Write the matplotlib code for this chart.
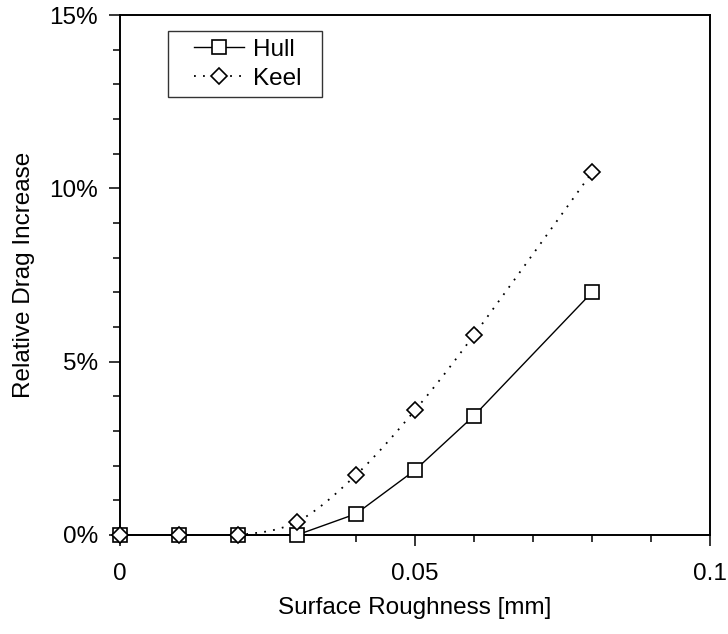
import numpy as np
import matplotlib
matplotlib.use("Agg")
import matplotlib.pyplot as plt
from matplotlib.ticker import MultipleLocator, FuncFormatter
from matplotlib.legend_handler import HandlerLine2D

plt.rcParams['font.family'] = ['Liberation Sans', 'DejaVu Sans']

roughness = [0.0, 0.01, 0.02, 0.03, 0.04, 0.05, 0.06, 0.08]
hull = [0.0, 0.0, 0.0, 0.0, 0.61, 1.87, 3.44, 7.0]
keel = [0.0, 0.0, 0.0, 0.38, 1.73, 3.60, 5.77, 10.46]


def smooth(x, y, n=20):
    # Catmull-Rom curve through the points (smoothed line style)
    x = np.asarray(x, float)
    y = np.asarray(y, float)
    px = np.concatenate([[x[0]], x, [x[-1]]])
    py = np.concatenate([[y[0]], y, [y[-1]]])
    xs, ys = [], []
    t = np.linspace(0, 1, n)
    for i in range(1, len(px) - 2):
        for p, out in ((px, xs), (py, ys)):
            p0, p1, p2, p3 = p[i - 1], p[i], p[i + 1], p[i + 2]
            out.extend(0.5 * ((2 * p1) + (-p0 + p2) * t
                              + (2 * p0 - 5 * p1 + 4 * p2 - p3) * t ** 2
                              + (-p0 + 3 * p1 - 3 * p2 + p3) * t ** 3))
    return np.array(xs), np.array(ys)


FS = 17.5
DOT = (0, (1.0, 4.0))

fig = plt.figure(figsize=(7.28, 6.34), dpi=100)
ax = fig.add_axes([0.1648, 0.1562, 0.8105, 0.8201])

hull_line, = ax.plot(roughness, hull, color='black', lw=1.0, marker='s',
                     ms=10.5, mfc='white', mec='black', mew=1.2,
                     label='Hull', zorder=3, clip_on=False)

sx, sy = smooth(roughness, keel)
ax.plot(sx, sy, color='black', lw=1.3, ls=DOT, zorder=2)
ax.plot(roughness, keel, ls='none', marker='D', ms=8,
        mfc='white', mec='black', mew=1.2, zorder=4, clip_on=False)
# legend proxy for the dotted series
keel_proxy, = ax.plot([], [], color='black', lw=1.3, ls=DOT, marker='D',
                      ms=8, mfc='white', mec='black', mew=1.2, label='Keel')

ax.set_xlim(0, 0.1)
ax.set_ylim(0, 15)
ax.xaxis.set_major_locator(MultipleLocator(0.05))
ax.xaxis.set_minor_locator(MultipleLocator(0.01))
ax.yaxis.set_major_locator(MultipleLocator(5))
ax.yaxis.set_minor_locator(MultipleLocator(1))
ax.xaxis.set_major_formatter(FuncFormatter(lambda v, p: f"{v:g}"))
ax.yaxis.set_major_formatter(FuncFormatter(lambda v, p: f"{v:g}%"))

ax.tick_params(which='both', direction='out', top=False, right=False,
               labelsize=FS, width=1.1)
ax.tick_params(axis='x', which='both', pad=12)
ax.tick_params(axis='y', which='both', pad=8)
ax.tick_params(which='major', length=8)
ax.tick_params(which='minor', length=5)
for s in ax.spines.values():
    s.set_linewidth(1.4)
    s.set_color('black')

ax.set_xlabel('Surface Roughness [mm]', fontsize=FS, labelpad=9)
ax.set_ylabel('Relative Drag Increase', fontsize=FS, labelpad=10)

hmap = {h: HandlerLine2D(xpad=0.75) for h in (hull_line, keel_proxy)}
leg = ax.legend(handles=[hull_line, keel_proxy], handler_map=hmap,
                loc='upper left', bbox_to_anchor=(0.0814, 0.969, 0.261, 0.0),
                mode='expand', fontsize=FS,
                frameon=True, fancybox=False, edgecolor='black',
                handlelength=2.8, handletextpad=0.37, borderpad=0.32,
                labelspacing=0.27, borderaxespad=0)
leg.get_frame().set_linewidth(1.0)

fig.savefig('out.png', dpi=100)
